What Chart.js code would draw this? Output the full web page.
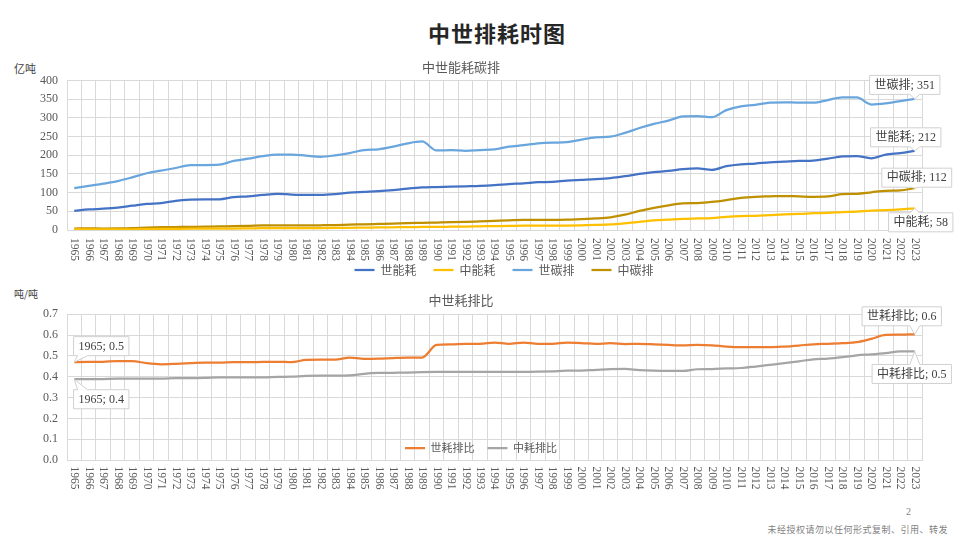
<!DOCTYPE html>
<html lang="zh-CN">
<head>
<meta charset="utf-8">
<title>中世排耗时图</title>
<script src="https://cdn.jsdelivr.net/npm/chart.js@4.4.1/dist/chart.umd.min.js"></script>
<style>
  html, body { margin: 0; padding: 0; background: #fff; }
  #page { position: relative; width: 960px; height: 540px; overflow: hidden; font-family: "Noto Sans CJK SC", sans-serif; }
  .title { position: absolute; left: 37px; width: 920px; top: 16px; text-align: center; font-size: 22px; font-weight: bold; color: #262626; letter-spacing: 1px; }
  .unit { position: absolute; left: 14px; font-size: 11px; color: #404040; }
  .chartBox { position: absolute; left: 0; width: 960px; }
  .pageNo { position: absolute; left: 906px; top: 506px; font-size: 10px; color: #7f7f7f; font-family: "Liberation Serif", serif; }
  .note { position: absolute; right: 12px; top: 523px; font-size: 9px; color: #7f7f7f; letter-spacing: 0.5px; }
</style>
</head>
<body>
<div id="page">
  <div class="title">中世排耗时图</div>
  <div class="unit" style="top:60px">亿吨</div>
  <div class="unit" style="top:286px;font-size:10px">吨/吨</div>
  <div class="chartBox" style="top:56px;height:229px"><canvas id="topChart"></canvas></div>
  <div class="chartBox" style="top:280px;height:225px"><canvas id="bottomChart"></canvas></div>
  <div class="pageNo">2</div>
  <div class="note">未经授权请勿以任何形式复制、引用、转发</div>
</div>
<script>
// years on the category axis
const years = ["1965","1966","1967","1968","1969","1970","1971","1972","1973","1974",
    "1975","1976","1977","1978","1979","1980","1981","1982","1983","1984",
    "1985","1986","1987","1988","1989","1990","1991","1992","1993","1994",
    "1995","1996","1997","1998","1999","2000","2001","2002","2003","2004",
    "2005","2006","2007","2008","2009","2010","2011","2012","2013","2014",
    "2015","2016","2017","2018","2019","2020","2021","2022","2023"];

// 亿吨
const worldEnergy = [51, 55, 57, 60, 65, 70, 72, 78, 81, 82,
    82, 88, 90, 94, 97, 95, 94, 94, 96, 100,
    102, 104, 107, 111, 114, 115, 116, 117, 118, 120,
    123, 125, 128, 129, 132, 134, 136, 139, 144, 150,
    155, 158, 163, 165, 161, 171, 176, 178, 181, 183,
    185, 186, 191, 197, 198, 192, 202, 206, 212];
const chinaEnergy = [1.5, 1.7, 1.6, 1.7, 2.0, 2.6, 3.0, 3.2, 3.4, 3.5,
    3.9, 4.0, 4.4, 4.9, 5.0, 5.0, 5.0, 5.2, 5.5, 5.9,
    6.4, 6.8, 7.3, 7.8, 8.1, 8.4, 8.8, 9.2, 9.8, 10.4,
    11.0, 11.5, 11.5, 11.5, 11.9, 12.6, 13.4, 14.8, 18, 22,
    26, 28, 30, 31, 32, 35, 37, 38, 40, 42,
    43, 45, 46, 48, 49, 52, 53, 55, 58];
const worldCarbon = [112, 118, 124, 131, 141, 152, 159, 166, 174, 174,
    175, 185, 191, 198, 202, 202, 199, 196, 200, 206,
    214, 216, 223, 232, 237, 213, 214, 212, 214, 216,
    223, 227, 232, 234, 235, 242, 248, 250, 260, 273,
    284, 293, 304, 305, 302, 321, 331, 335, 341, 342,
    341, 341, 348, 355, 355, 336, 339, 345, 351];
const chinaCarbon = [4.0, 4.4, 4.0, 4.3, 5.0, 6.5, 7.5, 8.0, 8.5, 8.8,
    9.8, 10.1, 11.0, 12.3, 12.5, 12.4, 12.2, 12.7, 13.3, 14.3,
    15.2, 16.2, 17.2, 18.5, 19.2, 20.0, 20.8, 21.8, 23.2, 24.6,
    26.0, 27.2, 27.2, 27.0, 27.7, 29.4, 30.9, 33.9, 41, 51,
    59, 66, 71, 72, 75, 80, 86, 89, 90, 91,
    90, 89, 90, 96, 97, 101, 105, 106, 112];

// 吨/吨
const worldRatio = [0.470, 0.471, 0.472, 0.475, 0.475, 0.465, 0.460, 0.462, 0.465, 0.468,
    0.468, 0.470, 0.470, 0.471, 0.472, 0.470, 0.481, 0.482, 0.482, 0.492,
    0.486, 0.487, 0.490, 0.492, 0.492, 0.553, 0.556, 0.558, 0.558, 0.564,
    0.558, 0.564, 0.558, 0.558, 0.564, 0.562, 0.558, 0.561, 0.557, 0.558,
    0.556, 0.553, 0.551, 0.553, 0.551, 0.545, 0.542, 0.542, 0.542, 0.545,
    0.550, 0.556, 0.558, 0.561, 0.566, 0.582, 0.601, 0.602, 0.604];
const chinaRatio = [0.388, 0.388, 0.389, 0.391, 0.391, 0.391, 0.391, 0.393, 0.393, 0.394,
    0.397, 0.397, 0.397, 0.397, 0.399, 0.400, 0.404, 0.405, 0.405, 0.406,
    0.414, 0.418, 0.419, 0.420, 0.422, 0.423, 0.423, 0.423, 0.423, 0.423,
    0.423, 0.423, 0.424, 0.426, 0.429, 0.429, 0.433, 0.437, 0.438, 0.432,
    0.429, 0.428, 0.428, 0.436, 0.437, 0.440, 0.442, 0.449, 0.457, 0.465,
    0.474, 0.484, 0.487, 0.494, 0.503, 0.508, 0.514, 0.522, 0.522];

Chart.defaults.font.family = "'Liberation Serif', 'Noto Sans CJK SC', serif";
Chart.defaults.font.size = 12;
Chart.defaults.color = "#595959";
Chart.defaults.animation = false;

const gridColor = "#D9D9D9";
const cjkFont = "'Noto Sans CJK SC', sans-serif";

// year labels rotated clockwise, reading top to bottom
const yearLabels = {
    id: "yearLabels",
    afterDraw(chart, args, opts) {
        const x = chart.scales.x;
        const ctx = chart.ctx;
        ctx.save();
        ctx.font = opts.font;
        ctx.fillStyle = opts.color;
        ctx.textAlign = "left";
        ctx.textBaseline = "middle";
        chart.data.labels.forEach((lab, i) => {
            ctx.save();
            ctx.translate(x.getPixelForValue(i), x.top + opts.gap);
            ctx.rotate(Math.PI / 2);
            ctx.fillText(lab, 0, 0);
            ctx.restore();
        });
        ctx.restore();
    }
};

// move the legend row to a given centre (legend keeps 1px in the layout)
const placeLegend = {
    id: "placeLegend",
    afterLayout(chart, args, opts) {
        const lg = chart.legend;
        if (!lg) return;
        const pad = lg.options.labels.padding;
        const dx = opts.cx - (lg.left + lg.right) / 2;
        lg.left += dx;
        lg.right += dx;
        lg.top = opts.cy - pad - opts.fontSize / 2;
        lg.height = opts.fontSize + pad * 2 + 4;
        lg.bottom = lg.top + lg.height;
    }
};

// excel style data callouts
const callouts = {
    id: "callouts",
    afterDatasetsDraw(chart, args, opts) {
        const ctx = chart.ctx;
        ctx.save();
        ctx.font = opts.font;
        opts.items.forEach(it => {
            const ds = chart.data.datasets[it.dataset];
            const pt = chart.getDatasetMeta(it.dataset).data[it.index];
            const text = it.text(ds.label, chart.data.labels[it.index], ds.data[it.index]);
            const w = ctx.measureText(text).width + 10;
            const h = 19;
            const l = pt.x + it.dx - w / 2;
            const t = pt.y + it.dy - h / 2;
            const bx = Math.min(Math.max(pt.x, l + 9), l + w - 9);
            ctx.beginPath();
            if (it.dy < 0) {
                ctx.moveTo(l, t);
                ctx.lineTo(l + w, t);
                ctx.lineTo(l + w, t + h);
                ctx.lineTo(bx + 5, t + h);
                ctx.lineTo(pt.x, pt.y);
                ctx.lineTo(bx - 5, t + h);
                ctx.lineTo(l, t + h);
            } else {
                ctx.moveTo(l, t);
                ctx.lineTo(bx - 5, t);
                ctx.lineTo(pt.x, pt.y);
                ctx.lineTo(bx + 5, t);
                ctx.lineTo(l + w, t);
                ctx.lineTo(l + w, t + h);
                ctx.lineTo(l, t + h);
            }
            ctx.closePath();
            ctx.fillStyle = "#fff";
            ctx.fill();
            ctx.strokeStyle = "#D0D0D0";
            ctx.lineWidth = 1;
            ctx.stroke();
            ctx.fillStyle = "#404040";
            ctx.textAlign = "center";
            ctx.textBaseline = "middle";
            ctx.fillText(text, l + w / 2, t + h / 2 + 0.5);
        });
        ctx.restore();
    }
};

function lineSet(label, data, color) {
    return {
        label: label,
        data: data,
        borderColor: color,
        backgroundColor: color,
        borderWidth: 2.25,
        pointRadius: 0,
        cubicInterpolationMode: "monotone"
    };
}

function lineOptions(title, yOpts, layout, legendPos, labelCfg, calloutItems) {
    return {
        responsive: true,
        maintainAspectRatio: false,
        layout: { padding: layout },
        scales: {
            x: {
                offset: true,
                grid: { offset: true, color: gridColor, drawTicks: false },
                border: { color: gridColor },
                ticks: { display: false },
                afterFit: s => { s.height = 34; }
            },
            y: Object.assign({
                grid: { color: gridColor, drawTicks: false },
                border: { color: gridColor },
                afterFit: s => { s.width = 67; }
            }, yOpts)
        },
        plugins: {
            title: {
                display: true,
                text: title,
                color: "#595959",
                font: { family: cjkFont, size: 13, weight: "normal" }
            },
            legend: {
                position: "bottom",
                maxHeight: 1,
                labels: Object.assign({
                    usePointStyle: true,
                    pointStyle: "line",
                    color: "#595959"
                }, labelCfg)
            },
            tooltip: { enabled: false },
            placeLegend: legendPos,
            yearLabels: legendPos.years,
            callouts: { font: "12px 'Liberation Serif', 'Noto Sans CJK SC'", items: calloutItems }
        }
    };
}

const byName = (name, cat, v) => name + "; " + Math.round(v);
const byYear = (name, cat, v) => cat + "; " + v.toFixed(1);
const byNameDec = (name, cat, v) => name + "; " + v.toFixed(1);

const topOpts = lineOptions("中世能耗碳排",
    { min: 0, max: 400, ticks: { stepSize: 50, padding: 9, color: "#595959", font: { size: 12 } } },
    { left: 0, right: 38, top: 0, bottom: 20 },
    { cx: 504, cy: 214, fontSize: 12, years: { gap: 8, font: "11.5px 'Liberation Serif'", color: "#595959" } },
    { pointStyleWidth: 20, padding: 17, font: { family: cjkFont, size: 12 } },
    [
        { dataset: 2, index: 58, dx: -10, dy: -14, text: byName },
        { dataset: 0, index: 58, dx: -9, dy: -13.5, text: byName },
        { dataset: 3, index: 58, dx: 2, dy: -10.5, text: byName },
        { dataset: 1, index: 58, dx: 6, dy: 14, text: byName }
    ]);
topOpts.plugins.title.padding = { top: 3, bottom: 6 };

new Chart(document.getElementById("topChart"), {
    type: "line",
    data: {
        labels: years,
        datasets: [
            lineSet("世能耗", worldEnergy, "#4472C4"),
            lineSet("中能耗", chinaEnergy, "#FFC000"),
            lineSet("世碳排", worldCarbon, "#6AA6DE"),
            lineSet("中碳排", chinaCarbon, "#BF9000")
        ]
    },
    options: topOpts,
    plugins: [yearLabels, placeLegend, callouts]
});

const bottomOpts = lineOptions("中世耗排比",
    { min: 0, max: 0.7, ticks: { stepSize: 0.1, padding: 9, color: "#595959", font: { size: 12 }, callback: v => v.toFixed(1) } },
    { left: 0, right: 38, top: 0, bottom: 10 },
    { cx: 481, cy: 168, fontSize: 11, years: { gap: 6.5, font: "11.5px 'Liberation Serif'", color: "#595959" } },
    { pointStyleWidth: 20, padding: 13, font: { family: cjkFont, size: 11 } },
    [
        { dataset: 0, index: 0, dx: 27, dy: -16, text: byYear },
        { dataset: 1, index: 0, dx: 27, dy: 20, text: byYear },
        { dataset: 0, index: 58, dx: -13, dy: -18, text: byNameDec },
        { dataset: 1, index: 58, dx: -3, dy: 22.6, text: byNameDec }
    ]);
bottomOpts.plugins.title.padding = { top: 12, bottom: 6.7 };

new Chart(document.getElementById("bottomChart"), {
    type: "line",
    data: {
        labels: years,
        datasets: [
            lineSet("世耗排比", worldRatio, "#ED7D31"),
            lineSet("中耗排比", chinaRatio, "#A5A5A5")
        ]
    },
    options: bottomOpts,
    plugins: [yearLabels, placeLegend, callouts]
});
</script>
</body>
</html>
